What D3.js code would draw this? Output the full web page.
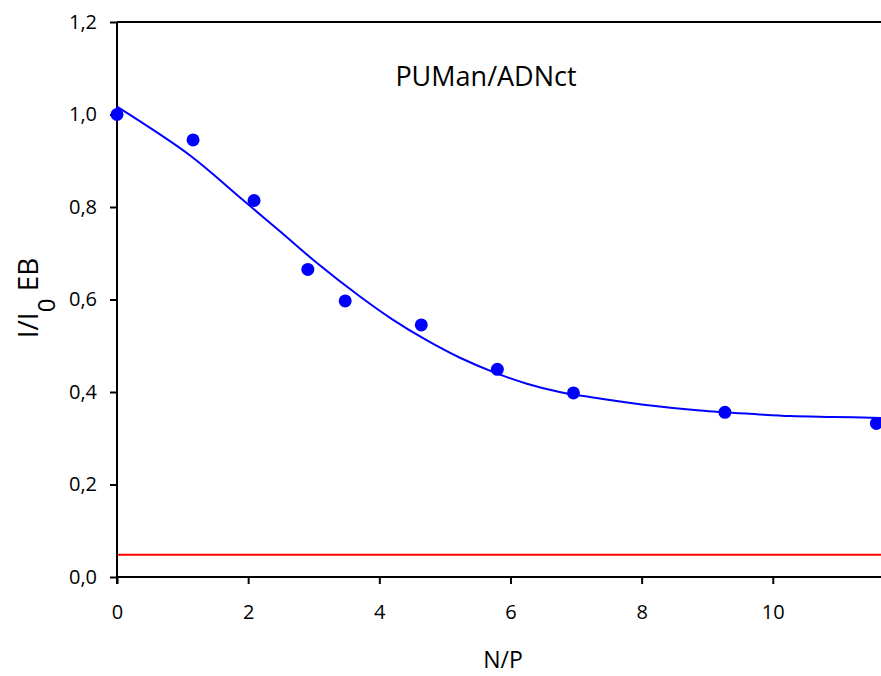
<!DOCTYPE html>
<html>
<head>
<meta charset="utf-8">
<script src="https://cdn.jsdelivr.net/npm/d3@7"></script>
<style>
  html, body { margin: 0; padding: 0; background: #fff; }
  svg { display: block; }
  text { font-family: "Open Sans", "DejaVu Sans", sans-serif; fill: #000; }
</style>
</head>
<body>
<svg id="chart" width="881" height="676"></svg>
<script>
// Data points (N/P, I/I0 EB)
const pointX = [0, 1.16, 2.09, 2.91, 3.48, 4.64, 5.80, 6.96, 9.27, 11.58];
const pointY = [1.0, 0.945, 0.814, 0.665, 0.597, 0.545, 0.449, 0.398, 0.356, 0.332];

// Fitted curve
const fitX = [0, 1.11, 1.88, 2.48, 3.04, 3.70, 4.21, 4.72, 5.23, 5.74, 6.25, 6.75, 7.21, 8.0, 8.89, 9.75, 10.26, 10.92, 11.65];
const fitY = [1.017, 0.912, 0.820, 0.748, 0.680, 0.607, 0.556, 0.512, 0.474, 0.443, 0.418, 0.400, 0.389, 0.373, 0.360, 0.352, 0.348, 0.346, 0.344];

// Reference level (red line)
const refLevel = [0.048];

const xTicks = [0, 2, 4, 6, 8, 10];
const yTicks = [0, 0.2, 0.4, 0.6, 0.8, 1.0, 1.2];

(function () {
const svg = d3.select("#chart");
const mLeft = 117, mRight = 881, mTop = 22, mBottom = 577;

const x = d3.scaleLinear().domain([0, 11.65]).range([mLeft, mRight]);
const y = d3.scaleLinear().domain([0, 1.2]).range([mBottom, mTop]);

const fmtY = d => d3.format(".1f")(d).replace(".", ",");

// Top frame line
svg.append("line")
  .attr("x1", mLeft).attr("x2", mRight)
  .attr("y1", y(1.2)).attr("y2", y(1.2))
  .attr("stroke", "#000").attr("stroke-width", 2);

// Red reference line
svg.append("line")
  .attr("x1", x(0)).attr("x2", mRight)
  .attr("y1", y(refLevel[0])).attr("y2", y(refLevel[0]))
  .attr("stroke", "#ff0000").attr("stroke-width", 2);

// X axis
const xAxis = svg.append("g")
  .attr("transform", `translate(0,${mBottom})`)
  .call(d3.axisBottom(x).tickValues(xTicks).tickSize(7).tickPadding(21).tickFormat(d3.format("d")));
xAxis.select(".domain").attr("stroke", "#000").attr("stroke-width", 2)
  .attr("d", `M${mLeft},0H${mRight}`);
xAxis.selectAll(".tick line").attr("stroke", "#000").attr("stroke-width", 2);
xAxis.selectAll("text").style("font-size", "20px").attr("font-family", null);

// Y axis
const yAxis = svg.append("g")
  .attr("transform", `translate(${mLeft},0)`)
  .call(d3.axisLeft(y).tickValues(yTicks).tickSize(7).tickPadding(13).tickFormat(fmtY));
yAxis.select(".domain").attr("stroke", "#000").attr("stroke-width", 2)
  .attr("d", `M0,${mTop}V${mBottom + 7}`);
yAxis.selectAll(".tick line").attr("stroke", "#000").attr("stroke-width", 2);
yAxis.selectAll("text").style("font-size", "20px").attr("font-family", null);

// Fitted curve
const fitData = fitX.map((d, i) => [d, fitY[i]]);
svg.append("path")
  .datum(fitData)
  .attr("fill", "none")
  .attr("stroke", "#0000ff")
  .attr("stroke-width", 2)
  .attr("d", d3.line().x(d => x(d[0])).y(d => y(d[1])).curve(d3.curveCatmullRom.alpha(0.5)));

// Points
svg.append("g").selectAll("circle")
  .data(pointX.map((d, i) => [d, pointY[i]]))
  .join("circle")
  .attr("cx", d => x(d[0]))
  .attr("cy", d => y(d[1]))
  .attr("r", 6.5)
  .attr("fill", "#0000ff");

// Title inside plot
svg.append("text")
  .attr("x", 486).attr("y", 86)
  .attr("text-anchor", "middle")
  .style("font-size", "27px")
  .text("PUMan/ADNct");

// X axis label
svg.append("text")
  .attr("x", 503).attr("y", 668)
  .attr("text-anchor", "middle")
  .style("font-size", "23px")
  .text("N/P");

// Y axis label with subscript
const yl = svg.append("text")
  .attr("transform", "translate(38,298) rotate(-90)")
  .attr("text-anchor", "middle")
  .style("font-size", "28px");
yl.append("tspan").text("I/I");
yl.append("tspan").attr("baseline-shift", "sub").style("font-size", "24px").text("0");
yl.append("tspan").text(" EB");
})();
</script>
</body>
</html>
